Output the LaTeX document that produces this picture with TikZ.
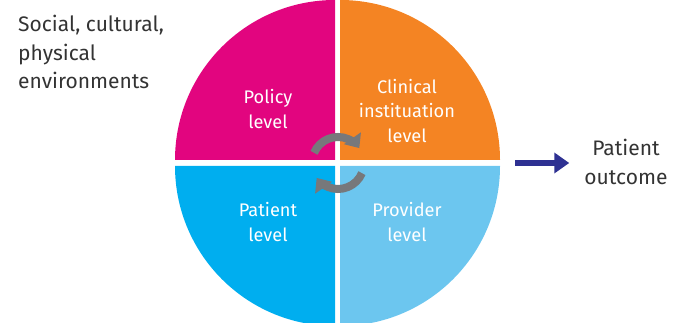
\documentclass[tikz,border=0pt]{standalone}
\usepackage{fontspec}
\setmainfont{Fira Sans}
\usetikzlibrary{arrows.meta,calc}
\definecolor{policy}{HTML}{E2057F}
\definecolor{clinical}{HTML}{F48423}
\definecolor{patient}{HTML}{00AEEF}
\definecolor{provider}{HTML}{6CC6EF}
\definecolor{navy}{HTML}{2E3192}
\definecolor{cycle}{HTML}{77787B}
\definecolor{ink}{HTML}{333333}
\tikzset{
  x=1pt, y=1pt,
  quadlabel/.style={text=white, align=center, inner sep=0pt,
    font=\fontsize{18.2}{24.5}\selectfont},
  sidelabel/.style={text=ink, inner sep=0pt,
    font=\fontsize{21}{28.5}\selectfont},
  cyclearrow/.style={draw=cycle, line width=8pt,
    -{Triangle[width=20pt,length=12pt]}},
  outarrow/.style={draw=navy, line width=6.5pt,
    -{Triangle[width=20pt,length=15pt]}},
}
\begin{document}
\begin{tikzpicture}
\useasboundingbox (0,0) rectangle (682,323);
\begin{scope}
\clip (0,0) rectangle (682,323);
% four quarter discs separated by white gaps
\fill[policy]   (335,163) -- (175,163) arc[start angle=180, end angle=90, radius=160] -- cycle;
\fill[clinical] (340,163) -- (340,323) arc[start angle=90, end angle=0, radius=160] -- cycle;
\fill[patient]  (335,157) -- (335,-3) arc[start angle=270, end angle=180, radius=160] -- cycle;
\fill[provider] (340,157) -- (500,157) arc[start angle=0, end angle=-90, radius=160] -- cycle;
\end{scope}

% level labels
\node[quadlabel] (policy)   at (268,214) {Policy\\level};
\node[quadlabel] (clinical) at (407,212) {Clinical\\instituation\\level};
\node[quadlabel] (patient)  at (268,101) {Patient\\level};
\node[quadlabel] (provider) at (407,101) {Provider\\level};

% circular arrows in the middle
\coordinate (hub) at (338,160);
\draw[cyclearrow] ($(hub)+(157:26)$) arc[start angle=157, end angle=35, radius=26];
\draw[cyclearrow] ($(hub)+(-23:26)$) arc[start angle=-23, end angle=-145, radius=26];

% environment text
\node[sidelabel, anchor=north west, align=left] (env) at (18,308)
  {Social, cultural,\\physical\\environments};

% outcome
\node[sidelabel, align=center] (outcome) at (626,161) {Patient\\outcome};
\coordinate (pieedge) at (515,160);
\draw[outarrow, shorten >=15pt] (pieedge) -- (pieedge -| outcome.west);
\end{tikzpicture}
\end{document}
